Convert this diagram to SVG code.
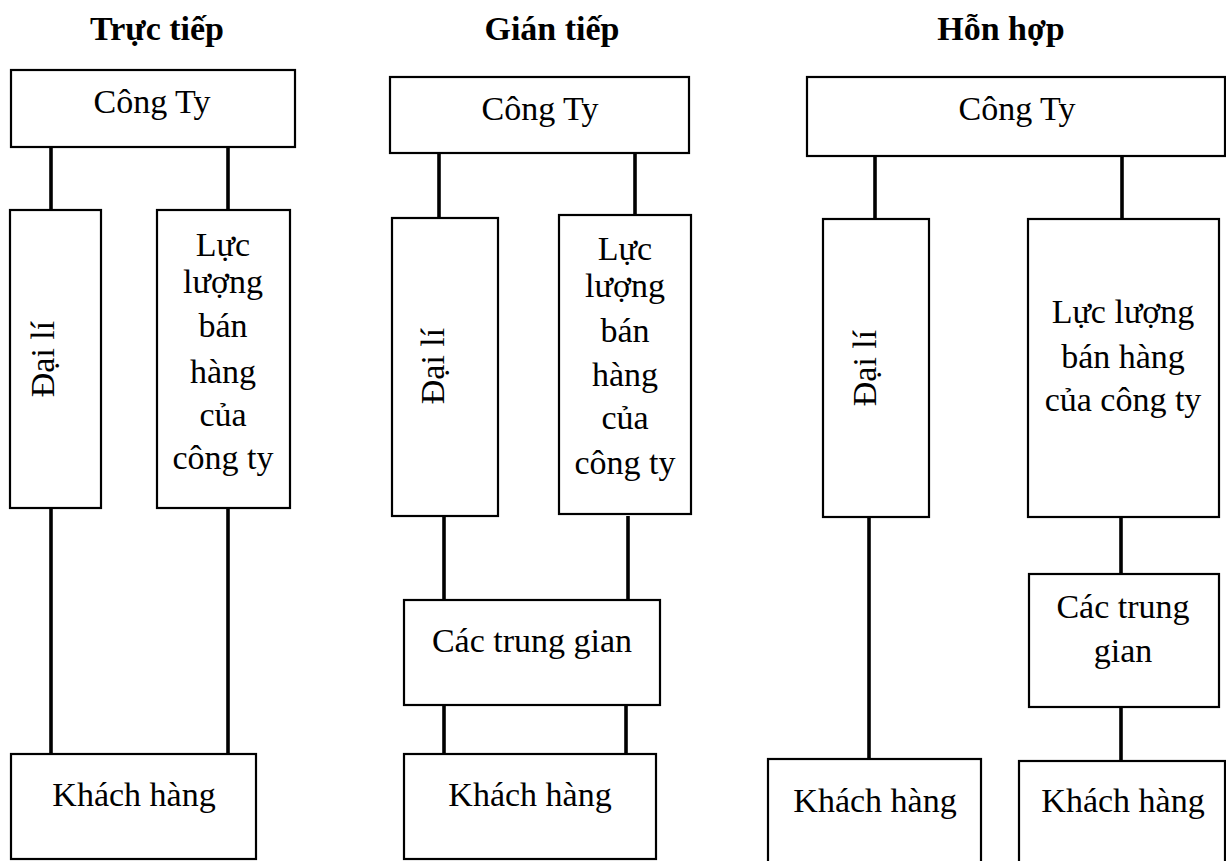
<svg xmlns="http://www.w3.org/2000/svg" width="1226" height="861" viewBox="0 0 1226 861">
<style>
.box{fill:#fff;stroke:#000;stroke-width:2.2}
.t{font-family:"Liberation Serif","Times New Roman",serif;font-size:34px;fill:#000;text-anchor:middle}
.h{font-family:"Liberation Serif","Times New Roman",serif;font-size:34px;font-weight:bold;fill:#000;text-anchor:middle}
.c{stroke:#000;stroke-width:3.6;fill:none}
</style>
<rect width="1226" height="861" fill="#fff"/>
<g id="titles">
<text class="h" x="157" y="40">Trực tiếp</text>
<text class="h" x="552" y="40">Gián tiếp</text>
<text class="h" x="1001" y="40">Hỗn hợp</text>
</g>
<g id="connectors">
<line class="c" x1="51" y1="147" x2="51" y2="211"/>
<line class="c" x1="228" y1="147" x2="228" y2="210"/>
<line class="c" x1="51" y1="508" x2="51" y2="754"/>
<line class="c" x1="228" y1="508" x2="228" y2="754"/>
<line class="c" x1="439" y1="153" x2="439" y2="219"/>
<line class="c" x1="635" y1="153" x2="635" y2="215"/>
<line class="c" x1="444" y1="516" x2="444" y2="600"/>
<line class="c" x1="628" y1="516" x2="628" y2="600"/>
<line class="c" x1="444" y1="705" x2="444" y2="756"/>
<line class="c" x1="626" y1="705" x2="626" y2="754"/>
<line class="c" x1="875" y1="156" x2="875" y2="226"/>
<line class="c" x1="1122" y1="156" x2="1122" y2="219"/>
<line class="c" x1="869" y1="517" x2="869" y2="759"/>
<line class="c" x1="1121" y1="517" x2="1121" y2="574"/>
<line class="c" x1="1121" y1="707" x2="1121" y2="761"/>
</g>
<g id="congty1"><rect class="box" x="11" y="70" width="284" height="77"/><text class="t" x="152" y="113">Công Ty</text></g>
<g id="daili1"><rect class="box" x="10" y="210" width="91" height="298"/><text class="t" transform="translate(54,359) rotate(-90)">Đại lí</text></g>
<g id="lucluong1"><rect class="box" x="157" y="210" width="133" height="298"/>
<text class="t" x="223" y="256">Lực</text><text class="t" x="223" y="293">lượng</text><text class="t" x="223" y="337">bán</text><text class="t" x="223" y="383">hàng</text><text class="t" x="223" y="426">của</text><text class="t" x="223" y="469">công ty</text></g>
<g id="khachhang1"><rect class="box" x="11" y="754" width="245" height="105"/><text class="t" x="134" y="806">Khách hàng</text></g>

<g id="congty2"><rect class="box" x="390" y="77" width="299" height="76"/><text class="t" x="540" y="120">Công Ty</text></g>
<g id="daili2"><rect class="box" x="392" y="218" width="106" height="298"/><text class="t" transform="translate(444,366) rotate(-90)">Đại lí</text></g>
<g id="lucluong2"><rect class="box" x="559" y="215" width="132" height="299"/>
<text class="t" x="625" y="260">Lực</text><text class="t" x="625" y="297">lượng</text><text class="t" x="625" y="342">bán</text><text class="t" x="625" y="386">hàng</text><text class="t" x="625" y="429">của</text><text class="t" x="625" y="474">công ty</text></g>
<g id="trunggian2"><rect class="box" x="404" y="600" width="256" height="105"/><text class="t" x="532" y="652">Các trung gian</text></g>
<g id="khachhang2"><rect class="box" x="404" y="754" width="252" height="105"/><text class="t" x="530" y="806">Khách hàng</text></g>

<g id="congty3"><rect class="box" x="807" y="77" width="418" height="79"/><text class="t" x="1017" y="120">Công Ty</text></g>
<g id="daili3"><rect class="box" x="823" y="219" width="106" height="298"/><text class="t" transform="translate(876,368) rotate(-90)">Đại lí</text></g>
<g id="lucluong3"><rect class="box" x="1028" y="219" width="191" height="298"/>
<text class="t" x="1123" y="323">Lực lượng</text><text class="t" x="1123" y="368">bán hàng</text><text class="t" x="1123" y="411">của công ty</text></g>
<g id="trunggian3"><rect class="box" x="1029" y="574" width="190" height="133"/><text class="t" x="1123" y="618">Các trung</text><text class="t" x="1123" y="662">gian</text></g>
<g id="khachhang3a"><rect class="box" x="768" y="759" width="213" height="130"/><text class="t" x="875" y="812">Khách hàng</text></g>
<g id="khachhang3b"><rect class="box" x="1019" y="761" width="206" height="130"/><text class="t" x="1123" y="812">Khách hàng</text></g>
</svg>
